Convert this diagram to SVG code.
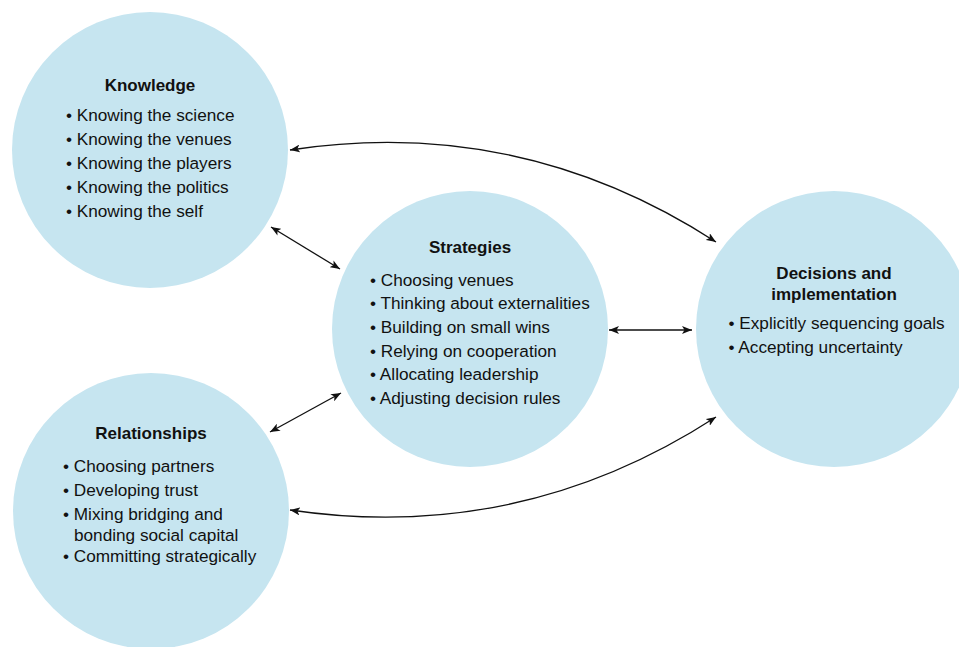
<svg xmlns="http://www.w3.org/2000/svg" width="959" height="647" viewBox="0 0 959 647">
  <style>
    .node { fill: #c6e5f0; }
    .title { font-family: "Liberation Sans", Arial, sans-serif; font-size: 17px; font-weight: bold; fill: #111; text-anchor: middle; }
    .item { font-family: "Liberation Sans", Arial, sans-serif; font-size: 17.2px; fill: #111; }
    .conn { fill: none; stroke: #111; stroke-width: 1.3; marker-start: url(#arrow); marker-end: url(#arrow); }
  </style>
  <defs>
    <marker id="arrow" viewBox="0 0 10 8" refX="10" refY="4" markerWidth="10" markerHeight="8" markerUnits="userSpaceOnUse" orient="auto-start-reverse">
      <path d="M0,0 L10,4 L0,8 L2.5,4 z" fill="#111"/>
    </marker>
  </defs>
  <rect width="959" height="647" fill="#ffffff"/>

  <g id="knowledge">
    <circle class="node" cx="150" cy="150" r="138"/>
    <text class="title" x="150" y="91">Knowledge</text>
    <text class="item" x="66" y="121">• Knowing the science</text>
    <text class="item" x="66" y="145">• Knowing the venues</text>
    <text class="item" x="66" y="169">• Knowing the players</text>
    <text class="item" x="66" y="193">• Knowing the politics</text>
    <text class="item" x="66" y="217">• Knowing the self</text>
  </g>

  <g id="strategies">
    <circle class="node" cx="470" cy="329" r="138"/>
    <text class="title" x="470" y="253">Strategies</text>
    <text class="item" x="370" y="286">• Choosing venues</text>
    <text class="item" x="370" y="309">• Thinking about externalities</text>
    <text class="item" x="370" y="333">• Building on small wins</text>
    <text class="item" x="370" y="357">• Relying on cooperation</text>
    <text class="item" x="370" y="380">• Allocating leadership</text>
    <text class="item" x="370" y="404">• Adjusting decision rules</text>
  </g>

  <g id="decisions">
    <circle class="node" cx="834" cy="329" r="138"/>
    <text class="title" x="834" y="279">Decisions and</text>
    <text class="title" x="834" y="300">implementation</text>
    <text class="item" x="728.5" y="329">• Explicitly sequencing goals</text>
    <text class="item" x="728.5" y="353">• Accepting uncertainty</text>
  </g>

  <g id="relationships">
    <circle class="node" cx="151" cy="511" r="138"/>
    <text class="title" x="151" y="439">Relationships</text>
    <text class="item" x="63" y="472">• Choosing partners</text>
    <text class="item" x="63" y="496">• Developing trust</text>
    <text class="item" x="63" y="520">• Mixing bridging and</text>
    <text class="item" x="74" y="541">bonding social capital</text>
    <text class="item" x="63" y="562">• Committing strategically</text>
  </g>

  <g id="connectors">
    <path class="conn" d="M290,150 Q520,115 716,242"/>
    <path class="conn" d="M290,510 Q520,544 716,417"/>
    <path class="conn" d="M271,227 L340,269"/>
    <path class="conn" d="M270,432 L341,393"/>
    <path class="conn" d="M609,330 L692,330"/>
  </g>
</svg>
